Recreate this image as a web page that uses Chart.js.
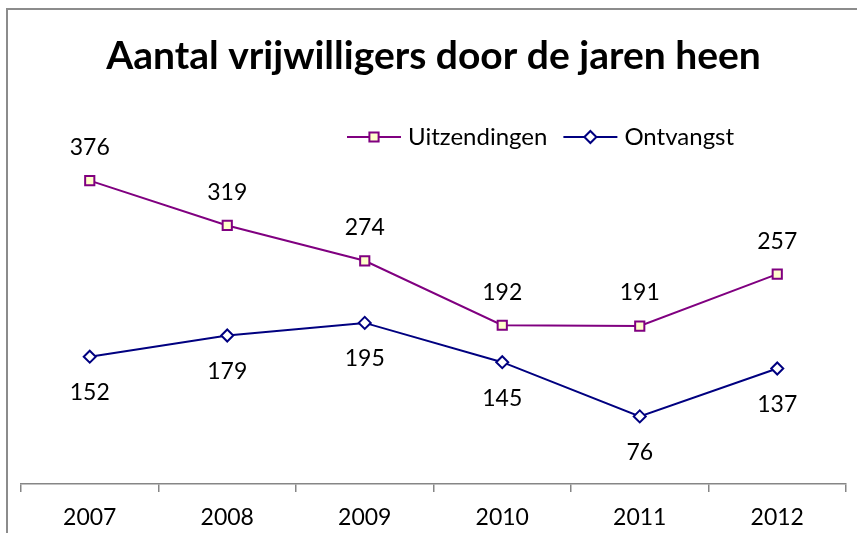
<html>
<head>
    <title>Aantal vrijwilligers</title>
    <script src="https://cdn.jsdelivr.net/npm/chart.js"></script>
    <style>
        body { margin: 0; background: #fff; }
        #wrap { position: relative; width: 857px; height: 533px; }
        #frame { position: absolute; left: 6px; top: 8px; width: 900px; height: 600px; border-left: 2px solid #8c8c8c; border-top: 2px solid #8c8c8c; }
    </style>
</head>
<body>
    <div id="wrap">
        <div id="frame"></div>
        <canvas id="volChart" width="857" height="533"></canvas>
    </div>

    <script>
        const years = ['2007', '2008', '2009', '2010', '2011', '2012'];
        const uitzendingen = [376, 319, 274, 192, 191, 257];
        const ontvangst = [152, 179, 195, 145, 76, 137];
        const seriesNames = ['Uitzendingen', 'Ontvangst'];
        const chartTitle = 'Aantal vrijwilligers door de jaren heen';

        const FONT = 'Lato, "Open Sans", sans-serif';

        // value labels above / below each point
        const valueLabels = {
            id: 'valueLabels',
            afterDatasetsDraw(chart) {
                const ctx = chart.ctx;
                ctx.save();
                ctx.font = '23px ' + FONT;
                ctx.fillStyle = '#000';
                ctx.textAlign = 'center';
                ctx.textBaseline = 'middle';
                chart.data.datasets.forEach((ds, i) => {
                    chart.getDatasetMeta(i).data.forEach((pt, j) => {
                        ctx.fillText(ds.data[j], pt.x, pt.y + ds.labelOffset);
                    });
                });
                ctx.restore();
            }
        };

        // legend drawn inside the plot area like the original
        const innerLegend = {
            id: 'innerLegend',
            afterDraw(chart) {
                const ctx = chart.ctx;
                const y = 137;
                let x = 347;
                ctx.save();
                ctx.font = '24px ' + FONT;
                ctx.textBaseline = 'middle';
                chart.data.datasets.forEach(ds => {
                    ctx.strokeStyle = ds.borderColor;
                    ctx.lineWidth = 2;
                    ctx.beginPath();
                    ctx.moveTo(x, y);
                    ctx.lineTo(x + 54, y);
                    ctx.stroke();
                    ctx.fillStyle = ds.pointBackgroundColor;
                    ctx.strokeStyle = ds.borderColor;
                    Chart.helpers.drawPoint(ctx, {
                        pointStyle: ds.pointStyle, radius: ds.pointRadius, borderWidth: 2, rotation: 0
                    }, x + 27, y);
                    ctx.fillStyle = '#000';
                    ctx.fillText(ds.label, x + 61, y);
                    x += 61 + ctx.measureText(ds.label).width + 16;
                });
                ctx.restore();
            }
        };

        new Chart(document.getElementById('volChart').getContext('2d'), {
            type: 'line',
            data: {
                labels: years,
                datasets: [
                    {
                        label: seriesNames[0], data: uitzendingen,
                        borderColor: '#800080', borderWidth: 2,
                        pointStyle: 'rect', pointRadius: 6.5, pointBorderWidth: 2,
                        pointBackgroundColor: '#ffffcc', pointBorderColor: '#800080',
                        labelOffset: -33
                    },
                    {
                        label: seriesNames[1], data: ontvangst,
                        borderColor: '#000080', borderWidth: 2,
                        pointStyle: 'rectRot', pointRadius: 6, pointBorderWidth: 2,
                        pointBackgroundColor: '#ffffff', pointBorderColor: '#000080',
                        labelOffset: 36
                    }
                ]
            },
            options: {
                responsive: false,
                animation: false,
                layout: { padding: { left: 21, right: 11, top: 0, bottom: 0 } },
                plugins: {
                    title: {
                        display: true, text: chartTitle, color: '#000',
                        font: { family: FONT, size: 39, weight: 'bold', lineHeight: 1.2 },
                        padding: { top: 33, bottom: 82 }
                    },
                    legend: { display: false },
                    tooltip: { enabled: false }
                },
                scales: {
                    x: {
                        offset: true,
                        afterFit(scale) { scale.height = 49; },
                        grid: { offset: true, drawOnChartArea: false, drawTicks: true, tickLength: 8, color: '#868686', lineWidth: 1.5 },
                        border: { display: true, color: '#868686', width: 1.5 },
                        ticks: { color: '#000', font: { family: FONT, size: 23 }, padding: 12 }
                    },
                    y: {
                        display: false,
                        min: -10, max: 400
                    }
                }
            },
            plugins: [valueLabels, innerLegend]
        });
    </script>
</body>
</html>
